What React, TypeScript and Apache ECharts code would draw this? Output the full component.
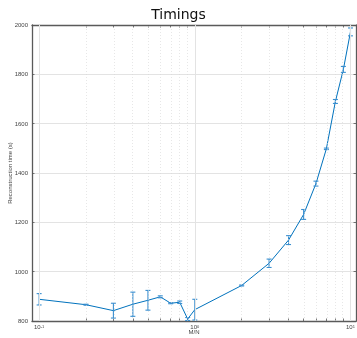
import React, { useEffect, useRef } from "react";
import * as echarts from "echarts";

// M/N ratios
const ratios = [0.1, 0.2, 0.3, 0.4, 0.5, 0.6, 0.7, 0.8, 0.9, 1, 2, 3, 4, 5, 6, 7, 8, 9, 10];
// mean reconstruction time (s)
const meanTimes = [888, 866, 842, 868, 884, 898, 872, 876, 808, 846, 944, 1034, 1128, 1232, 1357, 1498, 1690, 1820, 1972];
// error (half-length of bar)
const errors = [23, 2, 30, 49, 40, 4, 2, 5, 6, 42, 2, 17, 18, 20, 10, 3, 8, 12, 16];
// decades shown as labels
const decadeExps = [-1, 0, 1];

const BLUE = "#0072BD";
const lg = (v: number) => Math.log10(v);
const xMin = lg(0.09);
const xMax = lg(10.85);

const majorPos = decadeExps.map((e) => e);
const minorPos: number[] = [];
for (const e of [-1, 0]) for (let k = 2; k <= 9; k++) minorPos.push(lg(k * Math.pow(10, e)));
const allTickPos = [...majorPos, ...minorPos].sort((a, b) => a - b);

export default function App() {
  const ref = useRef<HTMLDivElement>(null);
  useEffect(() => {
    if (!ref.current) return;
    const chart = echarts.init(ref.current, undefined, { renderer: "svg" });
    const font = "Liberation Sans";
    const lineData = ratios.map((r, i) => [lg(r), meanTimes[i]]);
    const errData = ratios.map((r, i) => [lg(r), meanTimes[i] - errors[i], meanTimes[i] + errors[i]]);
    const gridMarks = [
      ...majorPos.map((v) => ({ xAxis: v, lineStyle: { color: "#e3e3e3", type: "solid", width: 1 } })),
      ...minorPos.map((v) => ({ xAxis: v, lineStyle: { color: "#d6d6d6", type: [1, 2], width: 0.6 } })),
    ];
    const axisLineStyle = { color: "#5a5a5a", width: 1.3 };
    chart.setOption({
      animation: false,
      title: {
        text: "Timings",
        left: "center",
        top: 2,
        textStyle: { fontFamily: "DejaVu Sans", fontWeight: "normal", fontSize: 14, color: "#111" },
      },
      grid: { left: 32, right: 1, top: 25, bottom: 17, containLabel: false, outerBoundsMode: "none" },
      xAxis: [
        {
          type: "value",
          position: "bottom",
          min: xMin,
          max: xMax,
          name: "M/N",
          nameLocation: "middle",
          nameGap: 8,
          nameMoveOverlap: false,
          nameTextStyle: { fontFamily: font, fontSize: 6, color: "#444" },
          axisLine: { show: true, onZero: false, lineStyle: axisLineStyle },
          axisTick: { show: true, inside: true, length: 2.5, customValues: allTickPos, lineStyle: { color: "#555", width: 0.8 } },
          axisLabel: {
            show: true,
            customValues: decadeExps,
            margin: 3,
            formatter: (v: number) => `{b|10}{s|${Math.round(v)}}`,
            rich: {
              b: { fontFamily: font, fontSize: 6, color: "#444", verticalAlign: "bottom" },
              s: { fontFamily: font, fontSize: 4, color: "#444", verticalAlign: "top" },
            },
          },
          splitLine: { show: false },
        },
        {
          type: "value",
          position: "top",
          min: xMin,
          max: xMax,
          axisLine: { show: true, onZero: false, lineStyle: axisLineStyle },
          axisTick: { show: true, inside: true, length: 2.5, customValues: allTickPos, lineStyle: { color: "#555", width: 0.8 } },
          axisLabel: { show: false },
          splitLine: { show: false },
        },
      ],
      yAxis: [
        {
          type: "value",
          position: "left",
          min: 800,
          max: 2000,
          interval: 200,
          name: "Reconstruction time (s)",
          nameLocation: "middle",
          nameGap: 19,
          nameMoveOverlap: false,
          nameTextStyle: { fontFamily: font, fontSize: 6, color: "#444" },
          axisLine: { show: true, onZero: false, lineStyle: axisLineStyle },
          axisTick: { show: true, inside: true, length: 2.5, lineStyle: { color: "#555", width: 0.8 } },
          axisLabel: {
            fontFamily: font,
            fontSize: 6,
            color: "#444",
            margin: 4,
            formatter: (v: number) => String(v),
          },
          splitLine: { show: true, lineStyle: { color: "#e3e3e3", width: 1 } },
        },
        {
          type: "value",
          position: "right",
          min: 800,
          max: 2000,
          interval: 200,
          axisLine: { show: true, onZero: false, lineStyle: axisLineStyle },
          axisTick: { show: true, inside: true, length: 2.5, lineStyle: { color: "#555", width: 0.8 } },
          axisLabel: { show: false },
          splitLine: { show: false },
        },
      ],
      series: [
        {
          type: "line",
          data: [],
          silent: true,
          z: 1,
          markLine: {
            silent: true,
            symbol: "none",
            label: { show: false },
            animation: false,
            data: gridMarks,
          },
        },
        {
          type: "line",
          data: lineData,
          showSymbol: false,
          symbol: "none",
          lineStyle: { color: BLUE, width: 1 },
          itemStyle: { color: BLUE },
          z: 3,
        },
        {
          type: "custom",
          data: errData,
          z: 4,
          renderItem: (params: any, api: any) => {
            const x = api.value(0);
            const lo = api.coord([x, api.value(1)]);
            const hi = api.coord([x, api.value(2)]);
            const cw = 2.5;
            const style = { stroke: "#3a8fd0", lineWidth: 1.1 };
            return {
              type: "group",
              children: [
                { type: "line", shape: { x1: lo[0], y1: lo[1], x2: hi[0], y2: hi[1] }, style },
                { type: "line", shape: { x1: lo[0] - cw, y1: lo[1], x2: lo[0] + cw, y2: lo[1] }, style },
                { type: "line", shape: { x1: hi[0] - cw, y1: hi[1], x2: hi[0] + cw, y2: hi[1] }, style },
              ],
            };
          },
        },
      ],
    });
    return () => chart.dispose();
  }, []);
  return <div ref={ref} style={{ position: "fixed", left: 0, top: 0, width: 357, height: 338 }} />;
}
